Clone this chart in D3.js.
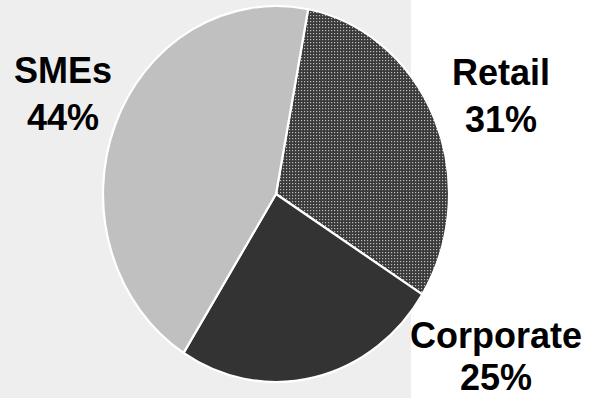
<!DOCTYPE html>
<html>
<head>
<meta charset="utf-8">
<script src="https://cdn.jsdelivr.net/npm/d3@7"></script>
<style>
  html, body { margin: 0; padding: 0; background: #ffffff; }
  svg { display: block; }
  .lbl { font-family: "Liberation Sans", Arial, sans-serif; font-weight: bold; font-size: 36px; fill: #000; }
</style>
</head>
<body>
<svg id="chart" width="589" height="398"></svg>
<script>
// Loan book split by customer segment
const categories = ["Retail", "Corporate", "SMEs"];
const shares = [31, 25, 44];
const shareLabels = ["31%", "25%", "44%"];

const W = 589, H = 398;
const svg = d3.select("#chart");

// light panel behind the pie
svg.append("rect").attr("x", 0).attr("y", 0).attr("width", 411).attr("height", H).attr("fill", "#eeeeee");

// dotted fill for the Retail slice
const defs = svg.append("defs");
const squash = 173 / 188;
const pat = defs.append("pattern")
  .attr("id", "dots").attr("patternUnits", "userSpaceOnUse")
  .attr("width", 3).attr("height", 3)
  .attr("patternTransform", `scale(${1 / squash},1)`);
pat.append("rect").attr("width", 3).attr("height", 3).attr("fill", "#3a3a3a");
pat.append("rect").attr("x", 1).attr("y", 1).attr("width", 1.2).attr("height", 1.2).attr("fill", "#bdbdbd");

const fills = d3.scaleOrdinal().domain(categories).range(["url(#dots)", "#333333", "#c0c0c0"]);

const cx = 276, cy = 194, R = 188;
const startDeg = 10.7;
const pie = d3.pie().sort(null).value(d => d.v)
  .startAngle(startDeg * Math.PI / 180)
  .endAngle((startDeg + 360) * Math.PI / 180);
const arc = d3.arc().innerRadius(0).outerRadius(R);

const data = categories.map((c, i) => ({ c, v: shares[i], t: shareLabels[i] }));

const g = svg.append("g").attr("transform", `translate(${cx},${cy}) scale(${squash},1)`);
g.selectAll("path").data(pie(data)).join("path")
  .attr("d", arc)
  .attr("fill", d => fills(d.data.c))
  .attr("stroke", "#ffffff")
  .attr("stroke-width", 2.2)
  .attr("vector-effect", "non-scaling-stroke")
  .attr("stroke-linejoin", "round");

// label anchors (centre x, first baseline, line gap)
const labelPos = { Retail: [501, 85, 47], Corporate: [496, 348, 42], SMEs: [63, 83, 47] };
const lg = svg.append("g");
data.forEach(d => {
  const [x, y, gap] = labelPos[d.c];
  const t = lg.append("text").attr("class", "lbl").attr("text-anchor", "middle").attr("x", x).attr("y", y);
  t.append("tspan").attr("x", x).text(d.c);
  t.append("tspan").attr("x", x).attr("dy", gap).text(d.t);
});
</script>
</body>
</html>
